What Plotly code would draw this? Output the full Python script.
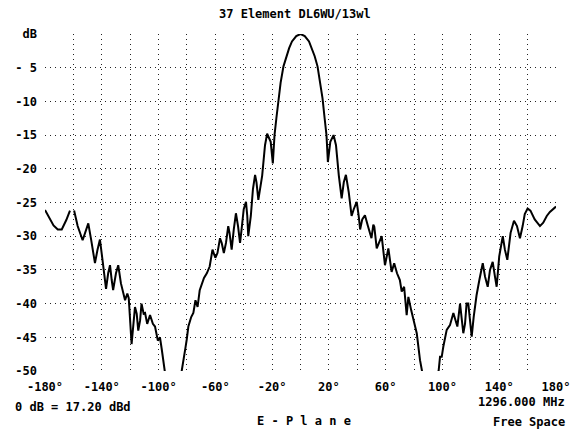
import plotly.graph_objects as go

# E-plane pattern (deg, dB); None marks the small gap in the trace
left_deg = [-180, -177, -174, -171, -168.2, -165, -162.4, -161, -159.5, -157, -153.5, -151.5,
            -149.5, -147.5, -144.8, -143, -141.3, -139.5, -137, -135.5, -134.2, -133, -132,
            -130, -128.4, -126.5, -125, -123.6, -122, -121, -119, -117.5, -116.6, -115.4,
            -114.3, -113, -112, -110.5, -109.5, -108, -106, -104, -102.5, -100.5, -99, -97.8,
            -96.5, -95.5, -93, -90, -87, -84.5, -83.7, -82.6, -81, -80.2, -79, -77, -75.5,
            -74, -72.5, -71, -69.6, -68, -66, -64, -62, -60, -58.5, -56.7, -55.5, -54, -52.5,
            -50.9, -50, -48.5, -47, -45.5, -44, -42.6, -41.5, -40, -38.4, -37.5, -36.8, -35,
            -33.5, -32, -31, -29.7, -27, -25, -23.5, -21, -19.5]
left_db = [-26.1, -27.3, -28.4, -29.0, -29.0, -27.6, -26.2, None, -26.2, -28.5, -30.6, -29.2,
           -28.1, -30.5, -34.0, -32.0, -30.5, -33.5, -37.8, -35.5, -34.3, -36.5, -38.0,
           -35.5, -34.3, -37.0, -38.5, -39.5, -38.5, -39.2, -46.0, -42.0, -40.5, -41.5,
           -44.0, -42.5, -40.0, -41.5, -41.4, -43.0, -41.7, -43.0, -43.4, -45.5, -45.0, -46.7,
           -49.0, -50.5, -54.0, -57.0, -54.0, -51.0, -50.0, -48.8, -46.5, -45.4, -43.4, -42.0, -41.4,
           -39.5, -40.5, -38.0, -37.0, -36.2, -35.5, -34.5, -32.0, -33.2, -32.5, -30.3, -31.0, -32.5, -31.0,
           -28.5, -29.5, -32.0, -29.0, -26.6, -28.5, -31.0, -29.0, -26.0, -24.9, -27.0, -30.0, -27.0,
           -23.0, -20.9, -22.0, -24.6, -21.0, -16.5, -14.8, -16.0, -19.2]

main_deg = [-18.3, -17, -15.5, -14, -12, -10, -8, -6, -3, 0, 3, 6, 8, 10, 12, 14, 15.5, 17, 18.3]
main_db = [-15.0, -12.5, -9.5, -7.2, -4.8, -3.3, -2.1, -1.1, -0.3, 0.0, -0.3, -1.1, -2.1, -3.3,
           -4.8, -7.2, -9.5, -12.5, -15.0]

right_deg = [19.3, 21, 23.3, 25, 27, 29, 30.5, 32, 34, 36, 37.5, 39.6, 41, 42, 43.5, 45.4, 47.5,
             50, 51.3, 52, 53.7, 55.5, 57.2, 59.5, 61.9, 64.2, 66, 68, 70, 71.3, 73, 74.8, 76,
             78, 80.7, 81.9, 84.2, 85.4, 86.5, 90, 94, 97.3, 98.3, 99.5, 100.6, 103, 105.3,
             107.7, 109, 110.5, 112.4, 114.7, 115.9, 117, 118.2, 120.6, 122, 124, 126, 128.4,
             130, 131.9, 133.5, 135.4, 137, 138.2, 140, 142.5, 144, 145.7, 148, 150.4, 152.5,
             154.6, 156.5, 158, 160, 162, 165, 168.7, 171, 173.5, 175.7, 178, 180]
right_db = [-19.0, -16.0, -15.0, -16.5, -21.0, -24.4, -22.0, -20.9, -23.5, -27.0, -26.0, -24.9,
            -27.0, -29.0, -27.5, -26.9, -28.5, -30.3, -28.3, -28.6, -31.8, -31.0, -30.0, -34.3,
            -31.8, -35.3, -34.0, -35.5, -36.5, -38.2, -37.5, -41.7, -39.0, -41.0, -43.2, -44.4,
            -48.4, -49.6, -51.0, -57.0, -54.0, -50.0, -47.9, -47.9, -46.4, -43.9, -43.2, -41.4,
            -42.5, -43.4, -40.0, -44.4, -43.0, -40.0, -40.0, -44.9, -42.0, -38.8, -36.5, -34.0,
            -36.0, -37.5, -35.0, -33.8, -36.0, -37.5, -33.0, -30.0, -32.0, -33.5, -29.5, -27.7,
            -28.5, -30.3, -28.5, -26.7, -25.9, -26.2, -27.5, -28.5, -28.0, -27.0, -26.4, -26.0,
            -25.6]

x_ticks = list(range(-180, 181, 20))
x_labels = [f"{v}°" if (v + 180) % 40 == 0 else "" for v in x_ticks]
y_ticks = list(range(0, -51, -5))
y_labels = ["dB", "- 5"] + [str(v) for v in y_ticks[2:]]

FONT = "DejaVu Sans Mono"

fig = go.Figure()
fig.add_trace(go.Scatter(
    x=left_deg + main_deg + right_deg,
    y=left_db + main_db + right_db,
    mode="lines",
    line=dict(color="black", width=2),
    connectgaps=False,
    hoverinfo="skip"))

grid = dict(showgrid=True, gridcolor="#222", gridwidth=1, griddash="1px,4px",
            zeroline=False, showline=False, ticks="", ticklabelstandoff=7, automargin=False,
            tickfont=dict(family=FONT, size=12, color="black", weight="bold"))

fig.update_xaxes(range=[-180, 180], tickvals=x_ticks, ticktext=x_labels, **grid)
fig.update_yaxes(range=[-50, 0], tickvals=y_ticks, ticktext=y_labels, **grid)

txt = dict(family=FONT, size=12, color="black", weight="bold")
fig.add_annotation(text="37 Element DL6WU/13wl", xref="paper", yref="paper", x=0.489, y=1,
                   yanchor="middle", yshift=20, showarrow=False, font=txt)
fig.add_annotation(text="0 dB = 17.20 dBd", xref="paper", yref="paper", x=-0.062, y=0,
                   xanchor="left", yanchor="middle", yshift=-36, showarrow=False, font=txt)
fig.add_annotation(text="1296.000 MHz", xref="paper", yref="paper", x=1.021, y=0,
                   xanchor="right", yanchor="middle", yshift=-31, showarrow=False, font=txt)
fig.add_annotation(text="E - P l a n e", xref="paper", yref="paper", x=0.507, y=0,
                   yanchor="middle", yshift=-50, showarrow=False, font=txt)
fig.add_annotation(text="Free Space", xref="paper", yref="paper", x=1.021, y=0,
                   xanchor="right", yanchor="middle", yshift=-51, showarrow=False, font=txt)

# the page body has an 8px margin, so the figure is sized to fit the 580x432 window
fig.update_layout(
    width=572, height=424,
    margin=dict(l=37, r=24, t=26, b=61),
    paper_bgcolor="white", plot_bgcolor="white",
    showlegend=False)

fig.write_html("out.html")
